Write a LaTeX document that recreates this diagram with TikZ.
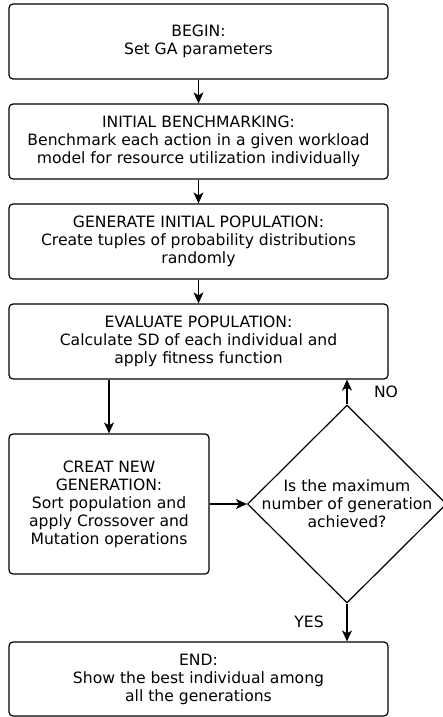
\documentclass[tikz,border=0pt]{standalone}
\usepackage{fontspec}
\setmainfont{DejaVu Sans}
\usetikzlibrary{arrows.meta,positioning,shapes.geometric}

\tikzset{
  stepbox/.style={draw, rounded corners=4pt, line width=1.2pt, align=center,
    minimum width=379pt, minimum height=75pt, inner sep=2pt},
  decision/.style={draw, diamond, line width=1.2pt, align=center,
    inner xsep=-18pt, inner ysep=-10pt, minimum width=199pt, minimum height=198pt},
  flow/.style={line width=1.2pt, -{Stealth[length=11pt,width=10pt,inset=3pt]}}
}

\begin{document}
\begin{tikzpicture}[x=1pt,y=-1pt,font=\fontsize{15.6}{18}\selectfont]
  \useasboundingbox (0,0) rectangle (442,717);
  \node[stepbox] (begin) at (198.5,41.5) {BEGIN:\\Set GA parameters};
  \node[stepbox] (bench) at (198.5,141.5) {INITIAL BENCHMARKING:\\Benchmark each action in a given workload\\model for resource utilization individually};
  \node[stepbox] (init) at (198.5,241.5) {GENERATE INITIAL POPULATION:\\Create tuples of probability distributions\\randomly};
  \node[stepbox] (eval) at (198.5,341.5) {EVALUATE POPULATION:\\Calculate SD of each individual and\\apply fitness function};
  \node[stepbox, minimum width=200pt, minimum height=140pt] (newgen) at (109,504) {CREAT NEW\\GENERATION:\\Sort population and\\apply Crossover and\\Mutation operations};
  \node[decision] (check) at (347,504) {Is the maximum\\number of generation\\achieved?};
  \node[stepbox, minimum height=74pt] (finish) at (198.5,679) {END:\\Show the best individual among\\all the generations};
  \draw[flow] (begin) -- (bench);
  \draw[flow] (bench) -- (init);
  \draw[flow] (init) -- (eval);
  \draw[flow] (eval.south -| newgen) -- (newgen);
  \draw[flow] (newgen) -- (check);
  \draw[flow] (check.north) -- (check.north |- eval.south);
  \draw[flow] (check.south) -- (check.south |- finish.north);
  \node (no) at (386,392) {NO};
  \node (yes) at (309,622) {YES};
\end{tikzpicture}
\end{document}
